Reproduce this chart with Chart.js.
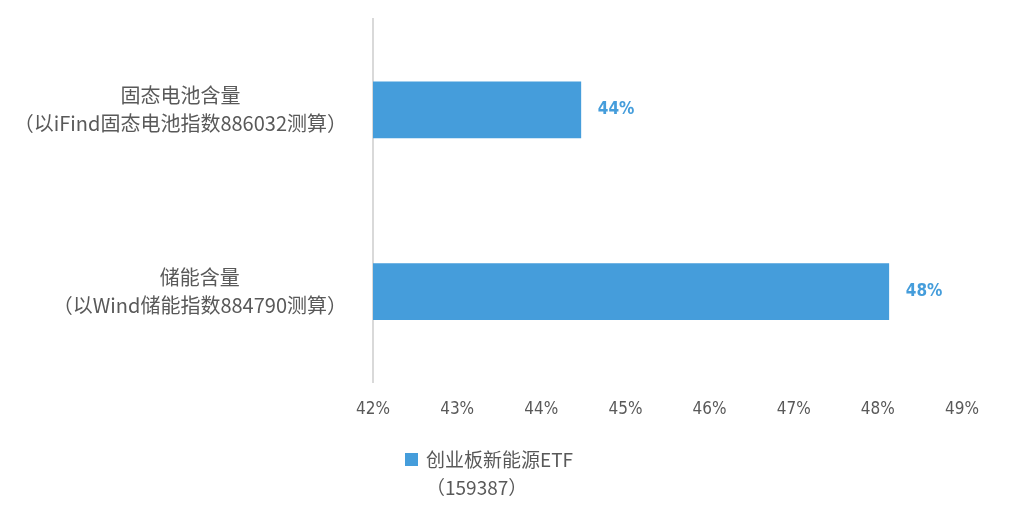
<!DOCTYPE html>
<html>
<head>
<meta charset="utf-8">
<script src="https://cdn.jsdelivr.net/npm/chart.js@4"></script>
<style>
  html, body { margin: 0; padding: 0; background: #fff; }
  #wrap { width: 1034px; height: 510px; }
</style>
</head>
<body>
<div id="wrap"><canvas id="barChart"></canvas></div>
<script>
// categories (two lines each), series values in %, axis ticks
const categories = [
    ['固态电池含量', '（以iFind固态电池指数886032测算）'],
    ['储能含量', '（以Wind储能指数884790测算）']
];
const seriesName = ['创业板新能源ETF', '（159387）'];
const seriesValues = [44.47, 48.13];
const valueLabels = ['44%', '48%'];
const xMin = 42;
const xMax = 49;

const barColor = '#459ddb';
const cjkFont = '"Noto Sans CJK SC", "Noto Sans", sans-serif';
const narrowFont = '"DejaVu Sans Condensed", "Liberation Sans Narrow", "Roboto Condensed", sans-serif';

// category labels, lines centred inside a right-aligned block
const categoryLabels = {
    id: 'categoryLabels',
    afterDraw(chart) {
        const ctx = chart.ctx;
        const yScale = chart.scales.y;
        const right = chart.chartArea.left - 26;
        ctx.save();
        ctx.font = '20px ' + cjkFont;
        ctx.fillStyle = '#595959';
        ctx.textAlign = 'center';
        ctx.textBaseline = 'middle';
        categories.forEach((lines, i) => {
            const y = yScale.getPixelForTick(i);
            const w = Math.max(...lines.map(l => ctx.measureText(l).width));
            const cx = right - w / 2;
            const lh = 28;
            lines.forEach((line, j) => {
                ctx.fillText(line, cx, y + (j - (lines.length - 1) / 2) * lh);
            });
        });
        ctx.restore();
    }
};

// value labels to the right of each bar
const valueLabelPlugin = {
    id: 'valueLabels',
    afterDatasetsDraw(chart) {
        const ctx = chart.ctx;
        const meta = chart.getDatasetMeta(0);
        ctx.save();
        ctx.font = 'bold 17px ' + narrowFont;
        ctx.fillStyle = barColor;
        ctx.textAlign = 'left';
        ctx.textBaseline = 'middle';
        meta.data.forEach((bar, i) => {
            ctx.fillText(valueLabels[i], bar.x + 17, bar.y);
        });
        ctx.restore();
    }
};

// legend at the bottom with a two-line label
const bottomLegend = {
    id: 'bottomLegend',
    afterDraw(chart) {
        const ctx = chart.ctx;
        const ds = chart.data.datasets[0];
        ctx.save();
        ctx.fillStyle = ds.backgroundColor;
        ctx.fillRect(405, 453, 13, 13);
        ctx.font = '19px ' + cjkFont;
        ctx.fillStyle = '#595959';
        ctx.textAlign = 'left';
        ctx.textBaseline = 'middle';
        ctx.fillText(seriesName[0], 426, 460);
        ctx.fillText(seriesName[1], 426, 488);
        ctx.restore();
    }
};

new Chart(document.getElementById('barChart').getContext('2d'), {
    type: 'bar',
    data: {
        labels: categories.map(c => c.join('')),
        datasets: [{
            label: seriesName.join(''),
            data: seriesValues,
            backgroundColor: barColor,
            borderWidth: 0,
            barThickness: 56
        }]
    },
    options: {
        indexAxis: 'y',
        responsive: true,
        maintainAspectRatio: false,
        animation: false,
        layout: {
            padding: { left: 365, right: 72, top: 19, bottom: 81 }
        },
        plugins: {
            legend: { display: false },
            tooltip: { enabled: false }
        },
        scales: {
            x: {
                min: xMin,
                max: xMax,
                grid: { display: false },
                border: { display: false },
                ticks: {
                    stepSize: 1,
                    padding: 9,
                    color: '#595959',
                    font: { family: narrowFont, size: 17 },
                    callback: v => v + '%'
                }
            },
            y: {
                grid: { display: false },
                border: { display: true, color: '#d9d9d9', width: 2 },
                ticks: { display: false }
            }
        }
    },
    plugins: [categoryLabels, valueLabelPlugin, bottomLegend]
});
</script>
</body>
</html>
